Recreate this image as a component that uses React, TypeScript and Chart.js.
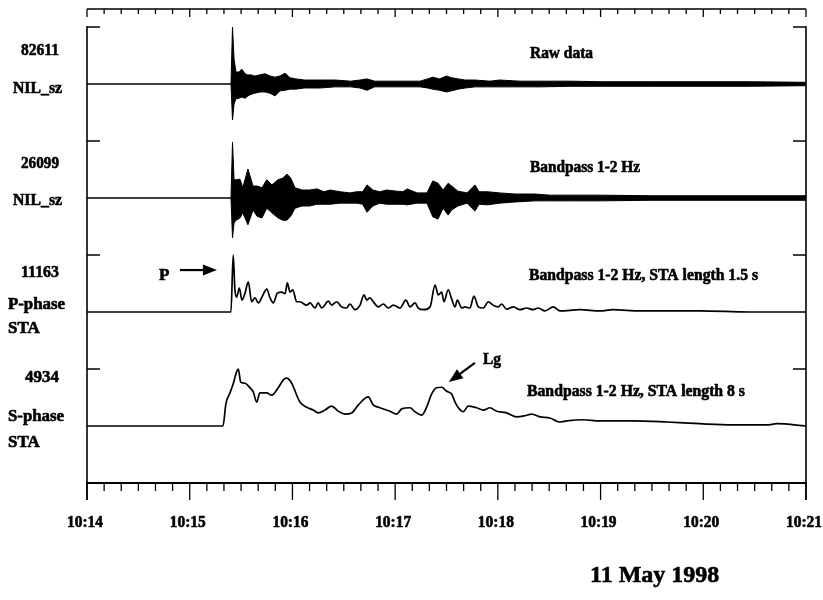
import { useEffect, useRef } from 'react';
import { Chart, registerables } from 'chart.js';

Chart.register(...registerables);

// ---------- axis ----------
const X_MIN = 0; // seconds after 10:14:00
const X_MAX = 420; // 10:21:00
const MINOR_STEP = 10;
const MAJOR_STEP = 60;
const TIME_TICK_LABELS = ['10:14', '10:15', '10:16', '10:17', '10:18', '10:19', '10:20', '10:21'];
const DATE_LABEL = '11 May 1998';

// trace offsets on the y axis (top trace first); each trace's max is drawn at offset + 0.5
const BASELINES = [3.5, 2.5, 1.5, 0.5];
const TRACE_MAX = ['82611', '26099', '11163', '4934'];
const TRACE_NAMES = [['NIL_sz'], ['NIL_sz'], ['P-phase', 'STA'], ['S-phase', 'STA']];
const TRACE_TITLES = [
  'Raw data',
  'Bandpass 1-2 Hz',
  'Bandpass 1-2 Hz, STA length 1.5 s',
  'Bandpass 1-2 Hz, STA length 8 s',
];

// ---------- trace 1: raw data envelope (% of 82611) ----------
const RAW_T = [0, 84.1, 85, 85.9, 87, 88.8, 90.5, 92.3, 94, 95.8,
  98.1, 101, 104, 106.9, 109.8, 112.7, 115.7, 118.6, 122, 127,
  136, 145, 154, 159.5, 163.6, 168, 177, 186, 194.5, 199,
  202, 206, 210, 213, 216.7, 221, 226.6, 235.4, 241, 253,
  264.6, 282, 301, 329, 358, 387, 420];
const RAW_UP = [0, 0, 100, 44, 21, 21, 26, 18, 16, 16,
  14, 16, 18, 14, 12, 14, 19, 11, 9, 7,
  7, 7, 5, 7, 9, 5, 5, 5, 5, 9,
  12, 9, 14, 11, 9, 7, 7, 5, 7, 5,
  5, 5, 4, 4, 4, 4, 3];
const RAW_DOWN = [0, 0, 63, 35, 26, 25, 23, 25, 21, 18,
  16, 14, 14, 16, 21, 12, 11, 9, 9, 7,
  7, 5, 5, 7, 11, 5, 5, 5, 5, 7,
  9, 11, 14, 12, 9, 7, 5, 5, 5, 5,
  5, 4, 4, 4, 4, 4, 3];

// ---------- trace 2: bandpass 1-2 Hz envelope (% of 26099) ----------
const BP_T = [0, 84.1, 85, 85.9, 87, 89.4, 91, 94, 97, 99.3,
  102.2, 105, 108, 111.6, 114.5, 116.8, 119, 121.5, 125.6, 130,
  134.3, 138.4, 142, 147.8, 153.6, 157.7, 161, 163.6, 167, 171,
  175, 181, 184.6, 187, 192.8, 198.6, 202, 205, 208, 211,
  213, 216.7, 222, 226.6, 229, 234, 241, 250, 261.7, 270.4,
  282, 300, 329, 358, 420];
const BP_UP = [0, 0, 98, 32, 32, 33, 18, 51, 21, 21,
  18, 32, 23, 32, 35, 42, 35, 18, 14, 14,
  16, 11, 14, 11, 9, 11, 11, 23, 14, 11,
  14, 12, 11, 16, 9, 9, 30, 26, 14, 26,
  21, 12, 9, 23, 11, 11, 9, 7, 7, 5,
  5, 5, 4, 4, 4];
const BP_DOWN = [0, 0, 70, 44, 39, 35, 26, 47, 21, 32,
  35, 18, 26, 35, 39, 39, 32, 18, 14, 14,
  11, 11, 11, 9, 9, 9, 11, 25, 14, 9,
  11, 11, 11, 12, 9, 9, 33, 37, 18, 30,
  21, 14, 9, 23, 11, 12, 9, 7, 5, 5,
  5, 5, 4, 4, 4];

// ---------- trace 3: P-phase STA, 1.5 s (% of 11163) ----------
const PSTA_T = [0, 84.1, 85.4, 86.4, 87.4, 89, 90.5, 92.3, 94.2, 96.2,
  98.1, 100.1, 102, 105, 106.9, 108.8, 111.2, 113.7, 115.7, 117,
  118.6, 120.2, 122.5, 124.4, 128.3, 130.3, 133.2, 135, 137.1, 141,
  142.9, 145.9, 148.7, 151.6, 153.6, 156.5, 159.5, 161.8, 163.4, 165.3,
  167.2, 170.2, 173.1, 176, 178.9, 182.8, 186.3, 188.7, 191.6, 193.5,
  196.4, 200.4, 203.3, 205.2, 207.2, 208.5, 211, 213, 215, 216.3,
  218.9, 220.8, 223.7, 226, 228.6, 231.5, 234.4, 237.3, 240.2, 242.2,
  245.1, 249, 252.9, 256.8, 260.7, 263.6, 267.5, 272.4, 276.3, 288,
  299.6, 307.2, 323, 358, 387, 420];
const PSTA_V = [0, 0, 100, 39, 26, 42, 21, 33, 53, 18,
  25, 16, 25, 40, 25, 16, 33, 35, 32, 51,
  35, 39, 18, 18, 12, 16, 7, 16, 7, 19,
  12, 18, 9, 7, 14, 4, 12, 30, 21, 25,
  18, 9, 14, 7, 12, 7, 21, 9, 16, 7,
  4, 9, 47, 30, 35, 18, 39, 23, 9, 21,
  7, 9, 7, 28, 9, 7, 18, 12, 9, 14,
  5, 9, 4, 7, 4, 7, 2, 9, 2, 4,
  2, 4, 2, 2, 0, 0];

// ---------- trace 4: S-phase STA, 8 s (% of 4934) ----------
const SSTA_T = [0, 79.4, 81.2, 83.5, 85.5, 87.4, 88.4, 89.8, 92.3, 95.2,
  97.1, 99.1, 101, 105, 107.9, 111.7, 114.7, 116.6, 119.6, 122.5,
  124.4, 128.3, 132.2, 135.1, 139, 142.9, 146.8, 150.7, 154.6, 158.5,
  164.3, 167.2, 171.1, 177, 180.9, 183.8, 188.7, 191.6, 195.5, 198.4,
  201.3, 204.2, 207.2, 210.1, 213, 215, 216.9, 219.8, 222.7, 227.6,
  231.5, 235.4, 239.3, 245.1, 251, 255.8, 259.7, 264.6, 270.4, 276.3,
  280.2, 289.7, 299.6, 318.9, 338.8, 358, 377.3, 397.2, 403, 420];
const SSTA_V = [0, 0, 40, 58, 75, 95, 100, 77, 75, 67,
  60, 42, 58, 58, 54, 67, 81, 84, 75, 54,
  42, 33, 28, 23, 28, 35, 26, 21, 23, 37,
  51, 37, 32, 26, 21, 30, 32, 25, 19, 33,
  56, 67, 68, 61, 56, 42, 32, 25, 35, 32,
  28, 32, 26, 23, 16, 18, 21, 16, 14, 7,
  9, 11, 9, 9, 7, 4, 2, 2, 4, 0];

const FONT = '"Liberation Serif", "Times New Roman", serif';

function pts(times: number[], vals: number[], base: number, sign: number) {
  return times.map((t, i) => ({ x: t, y: base + sign * 0.5 * (vals[i] / 100) }));
}

const overlay = {
  id: 'overlay',
  afterDraw(chart: any) {
    const { ctx, chartArea: a, scales } = chart;
    const xs = scales.x;
    const ys = scales.y;
    const line = (x1: number, y1: number, x2: number, y2: number) => {
      ctx.beginPath();
      ctx.moveTo(x1, y1);
      ctx.lineTo(x2, y2);
      ctx.stroke();
    };
    const text = (s: string, x: number, y: number, size: number, align: CanvasTextAlign, maxW?: number) => {
      ctx.font = `bold ${size}px ${FONT}`;
      ctx.textAlign = align;
      ctx.textBaseline = 'alphabetic';
      ctx.lineWidth = 0.6;
      ctx.lineJoin = 'round';
      if (maxW) {
        ctx.fillText(s, x, y, maxW);
        ctx.strokeText(s, x, y, maxW);
      } else {
        ctx.fillText(s, x, y);
        ctx.strokeText(s, x, y);
      }
    };
    ctx.save();
    ctx.strokeStyle = '#000';
    ctx.fillStyle = '#000';
    ctx.lineCap = 'butt';

    // top time axis
    ctx.lineWidth = 1.5;
    line(a.left, a.top, a.right, a.top);
    // ticks top & bottom
    for (let t = X_MIN; t <= X_MAX; t += MINOR_STEP) {
      const px = xs.getPixelForValue(t);
      const major = t % MAJOR_STEP === 0;
      ctx.lineWidth = 1.3;
      line(px, a.top, px, a.top + (major ? 8 : 5));
      line(px, a.bottom, px, a.bottom + (major ? 17 : 8));
    }
    // bottom axis
    ctx.lineWidth = 2;
    line(a.left - 1, a.bottom, a.right + 1, a.bottom);
    // side borders
    const topMarker = ys.getPixelForValue(BASELINES[0] + 0.5);
    ctx.lineWidth = 1.6;
    line(a.left, topMarker - 0.8, a.left, a.bottom + 17);
    line(a.right, topMarker - 0.8, a.right, a.bottom + 17);
    // trace max markers
    ctx.lineWidth = 1.5;
    BASELINES.forEach((b) => {
      const py = ys.getPixelForValue(b + 0.5);
      line(a.left, py, a.left + 13, py);
      line(a.right - 13, py, a.right, py);
    });

    // time labels
    TIME_TICK_LABELS.forEach((lab, i) => {
      const px = xs.getPixelForValue(X_MIN + i * MAJOR_STEP);
      text(lab, px - 2, a.bottom + 44, 16, 'center', 36);
    });

    // left labels
    const maxY = [55, 168, 277, 382];
    TRACE_MAX.forEach((s, i) => text(s, 59, maxY[i], 17, 'right', 38));
    text(TRACE_NAMES[0][0], 62, 93, 17, 'right', 49);
    text(TRACE_NAMES[1][0], 62, 205, 17, 'right', 49);
    text(TRACE_NAMES[2][0], 8, 309, 17, 'left', 57);
    text(TRACE_NAMES[2][1], 8, 333, 17, 'left', 32);
    text(TRACE_NAMES[3][0], 8, 421, 17, 'left', 56);
    text(TRACE_NAMES[3][1], 8, 447, 17, 'left', 32);

    // trace titles
    const titleX = [530, 530, 529, 527];
    const titleY = [58, 172, 280, 396];
    const titleW = [63, 110, 229, 218];
    TRACE_TITLES.forEach((s, i) => text(s, titleX[i], titleY[i], 16, 'left', titleW[i]));

    // P and Lg annotations with arrows (anchored in data space)
    const arrow = (t1: number, v1: number, t2: number, v2: number) => {
      const x1 = xs.getPixelForValue(t1), y1 = ys.getPixelForValue(v1);
      const x2 = xs.getPixelForValue(t2), y2 = ys.getPixelForValue(v2);
      const ang = Math.atan2(y2 - y1, x2 - x1);
      const hl = 14, hw = 5.5;
      const bx = x2 - hl * Math.cos(ang), by = y2 - hl * Math.sin(ang);
      ctx.lineWidth = 2.2;
      line(x1, y1, bx + 2 * Math.cos(ang), by + 2 * Math.sin(ang));
      ctx.beginPath();
      ctx.moveTo(x2, y2);
      ctx.lineTo(bx + hw * Math.sin(ang), by - hw * Math.cos(ang));
      ctx.lineTo(bx - hw * Math.sin(ang), by + hw * Math.cos(ang));
      ctx.closePath();
      ctx.fill();
    };
    arrow(54.3, 1.868, 75.9, 1.868);
    text('P', 159, 280, 17, 'left');
    arrow(226.6, 1.053, 211.4, 0.886);
    text('Lg', 483, 364, 17, 'left', 18);

    // date
    text(DATE_LABEL, 590, 582, 24, 'left', 132);
    ctx.restore();
  },
};

export default function App() {
  const ref = useRef<HTMLCanvasElement>(null);
  useEffect(() => {
    const prev = document.body.style.margin;
    document.body.style.margin = '0';
    const black = '#000';
    const env = (t: number[], up: number[], down: number[], base: number) => [
      {
        data: pts(t, up, base, 1),
        borderColor: black,
        backgroundColor: black,
        borderWidth: 1,
        pointRadius: 0,
        fill: '+1',
      },
      {
        data: pts(t, down, base, -1),
        borderColor: black,
        backgroundColor: black,
        borderWidth: 1,
        pointRadius: 0,
        fill: false,
      },
    ];
    const sta = (t: number[], v: number[], base: number) => ({
      data: pts(t, v, base, 1),
      borderColor: black,
      borderWidth: 1.7,
      pointRadius: 0,
      fill: false,
      cubicInterpolationMode: 'monotone',
    });
    const chart = new Chart(ref.current as HTMLCanvasElement, {
      type: 'line',
      data: {
        datasets: [
          ...env(RAW_T, RAW_UP, RAW_DOWN, BASELINES[0]),
          ...env(BP_T, BP_UP, BP_DOWN, BASELINES[1]),
          sta(PSTA_T, PSTA_V, BASELINES[2]),
          sta(SSTA_T, SSTA_V, BASELINES[3]),
        ] as any,
      },
      options: {
        animation: false,
        responsive: false,
        devicePixelRatio: 1,
        layout: { padding: { left: 87, right: 17, top: 9, bottom: 117 } },
        scales: {
          x: { type: 'linear', min: X_MIN, max: X_MAX, display: false },
          y: { type: 'linear', min: 0, max: 4.158, display: false },
        },
        elements: { line: { tension: 0 } },
        plugins: { legend: { display: false }, tooltip: { enabled: false } },
      },
      plugins: [overlay],
    });
    return () => {
      chart.destroy();
      document.body.style.margin = prev;
    };
  }, []);
  return (
    <div style={{ position: 'fixed', left: 0, top: 0, width: 823, height: 600, background: '#fff' }}>
      <canvas ref={ref} width={823} height={600} style={{ display: 'block', width: 823, height: 600 }} />
    </div>
  );
}
